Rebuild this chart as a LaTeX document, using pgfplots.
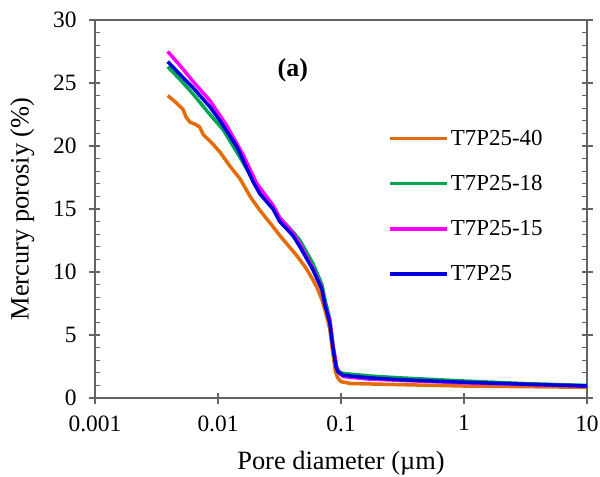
\documentclass[border=0pt]{standalone}
\usepackage{pgfplots}
\pgfplotsset{compat=1.18}
\usepackage{fontspec}
\setmainfont{Liberation Serif}
\definecolor{corange}{RGB}{228,108,10}
\definecolor{cgreen}{RGB}{0,166,81}
\definecolor{cmag}{RGB}{255,0,255}
\definecolor{cblue}{RGB}{0,0,220}
\definecolor{axgray}{RGB}{100,100,100}
\begin{document}
\begin{tikzpicture}
\path[use as bounding box] (-95bp,-79bp) rectangle (505bp,398bp);
\begin{axis}[
  at={(0,0)}, anchor=south west,
  scale only axis, width=492bp, height=378bp,
  xmode=log, log basis x=10,
  xmin=0.001, xmax=10, ymin=0, ymax=30,
  xtick={0.001,0.01,0.1,1,10},
  xticklabels={0.001,0.01,0.1,1,10},
  ytick={0,5,10,15,20,25,30},
  minor y tick num=4,
  xtick pos=left, ytick pos=both,
  tick align=inside,
  major tick length=5bp, minor tick length=5bp,
  extra x ticks={0.001,0.01,0.1,1,10}, extra x tick labels={},
  extra y ticks={0,5,10,15,20,25,30}, extra y tick labels={},
  extra tick style={tick align=outside, major tick length=6bp},
  axis line style={axgray, line width=1.3bp},
  every tick/.style={axgray, line width=1.2bp},
  /pgf/number format/assume math mode=true,
  tick label style={font=\fontsize{23.5}{28}\selectfont, text=black},
  yticklabel style={xshift=-15bp},
  xticklabel style={yshift=-14bp},
  xlabel={Pore diameter (µm)},
  ylabel={Mercury porosiy (\%)},
  label style={font=\fontsize{26.5}{31}\selectfont},
  xlabel style={yshift=-7bp},
  ylabel style={yshift=6bp},
  legend cell align=left,
  legend style={draw=none, fill=none, at={(0.59,0.72)}, anchor=north west,
    font=\fontsize{23}{27}\selectfont, row sep=24.5bp},
  legend image code/.code={\draw[#1, line width=3.5bp] (0bp,0bp) -- (57bp,0bp);},
  every axis plot/.append style={line width=3.5bp, line join=round},
]
\addplot[corange] coordinates {
(0.0039,24.0) (0.0045,23.5) (0.0052,22.9) (0.0055,22.3) (0.0059,21.9) (0.0066,21.7) (0.0071,21.5) (0.0076,20.9) (0.0090,20.2) (0.0104,19.5) (0.0125,18.4) (0.0151,17.4) (0.0185,15.9) (0.0219,14.9) (0.028,13.6) (0.0318,12.9) (0.0437,11.3) (0.052,10.3) (0.059,9.4) (0.065,8.6) (0.070,7.8) (0.074,7.0) (0.081,5.5) (0.086,3.5) (0.090,2.1) (0.094,1.6) (0.100,1.3) (0.12,1.15) (0.2,1.1) (1,0.95) (10,0.85)
};
\addlegendentry{T7P25-40}
\addplot[cgreen] coordinates {
(0.0039,26.3) (0.0050,25.2) (0.0063,24.1) (0.0086,22.5) (0.011,21.3) (0.0151,19.1) (0.0188,17.5) (0.0219,16.3) (0.028,15.2) (0.0318,14.3) (0.0406,13.2) (0.0464,12.5) (0.059,10.7) (0.070,9.0) (0.074,7.8) (0.081,6.3) (0.086,4.2) (0.092,2.5) (0.096,2.1) (0.104,1.95) (0.17,1.75) (0.3,1.6) (1,1.35) (3,1.15) (10,1.0)
};
\addlegendentry{T7P25-18}
\addplot[cmag] coordinates {
(0.0039,27.5) (0.0050,26.3) (0.0063,25.1) (0.0086,23.6) (0.0118,21.6) (0.016,19.3) (0.0207,17.0) (0.028,15.3) (0.0318,14.3) (0.0406,13.1) (0.0464,12.2) (0.059,10.3) (0.070,8.7) (0.074,7.4) (0.081,6.2) (0.086,4.2) (0.092,2.5) (0.096,2.0) (0.105,1.7) (0.17,1.5) (1,1.2) (10,0.95)
};
\addlegendentry{T7P25-15}
\addplot[cblue] coordinates {
(0.0039,26.7) (0.0050,25.6) (0.0063,24.6) (0.0086,23.1) (0.0104,22.0) (0.0143,19.9) (0.0192,17.2) (0.0219,16.2) (0.028,15.0) (0.0318,14.0) (0.0406,12.9) (0.0464,12.0) (0.059,10.2) (0.070,8.6) (0.074,7.4) (0.081,6.0) (0.086,4.0) (0.091,2.5) (0.094,2.1) (0.104,1.8) (0.17,1.6) (0.3,1.45) (1,1.25) (3,1.1) (10,0.95)
};
\addlegendentry{T7P25}
\node[font=\bfseries\fontsize{26}{30}\selectfont] at (rel axis cs:0.402,0.868) {(a)};
\end{axis}
\end{tikzpicture}
\end{document}
